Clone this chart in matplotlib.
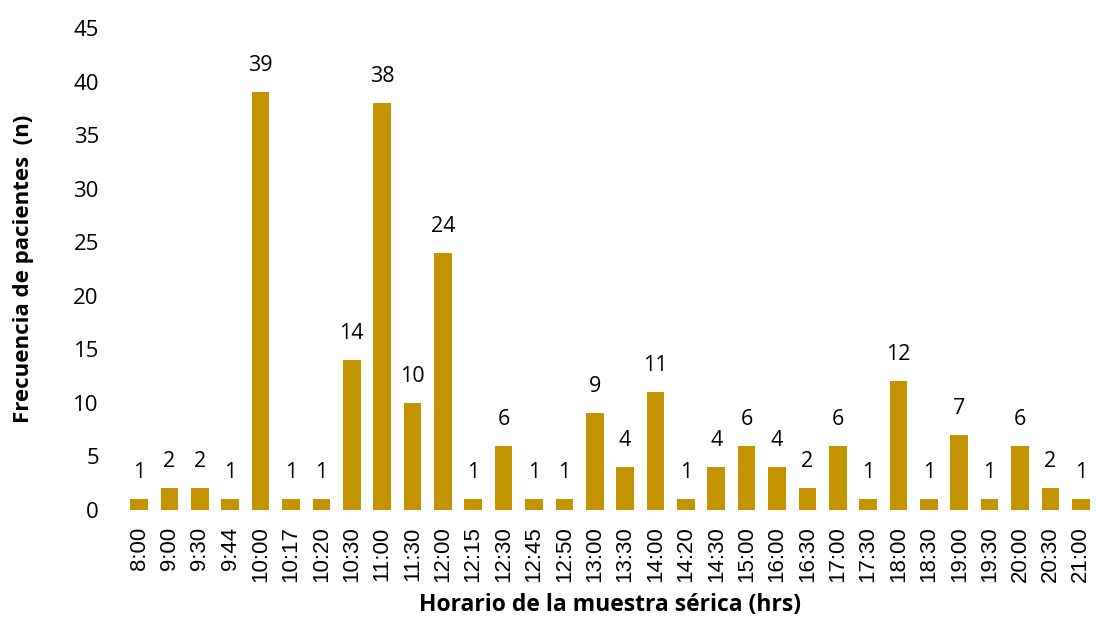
import numpy as np
import matplotlib.pyplot as plt

horarios = ['8:00', '9:00', '9:30', '9:44', '10:00', '10:17', '10:20', '10:30',
            '11:00', '11:30', '12:00', '12:15', '12:30', '12:45', '12:50', '13:00',
            '13:30', '14:00', '14:20', '14:30', '15:00', '16:00', '16:30', '17:00',
            '17:30', '18:00', '18:30', '19:00', '19:30', '20:00', '20:30', '21:00']
pacientes = [1, 2, 2, 1, 39, 1, 1, 14, 38, 10, 24, 1, 6, 1, 1, 9,
             4, 11, 1, 4, 6, 4, 2, 6, 1, 12, 1, 7, 1, 6, 2, 1]

plt.rcParams['font.family'] = ['Open Sans', 'DejaVu Sans']

fig = plt.figure(figsize=(10.96, 6.24), dpi=100)
ax = fig.add_axes([0.113, 0.183, 0.887, 0.772])

x = np.arange(len(horarios))
bars = ax.bar(x, pacientes, width=0.58, color='#C49400')

for b, v in zip(bars, pacientes):
    ax.text(b.get_x() + b.get_width() / 2, v + 1.5, str(v),
            ha='center', va='bottom', fontsize=15.5)

ax.set_xlim(-0.5, len(horarios) - 0.5)
ax.set_ylim(0, 45)
ax.set_yticks(range(0, 46, 5))
ax.set_xticks(x)
ax.set_xticklabels(horarios, rotation=90)
ax.tick_params(axis='y', labelsize=16, length=0, pad=18)
ax.tick_params(axis='x', labelsize=16, length=0, pad=12,
               labelfontfamily='Liberation Sans')

for s in ax.spines.values():
    s.set_visible(False)

ax.set_ylabel('Frecuencia de pacientes  (n)', fontsize=16, fontweight='bold', labelpad=28)
ax.set_xlabel('Horario de la muestra sérica (hrs)', fontsize=16.5, fontweight='bold', labelpad=8)

fig.savefig('out.png', dpi=100)
